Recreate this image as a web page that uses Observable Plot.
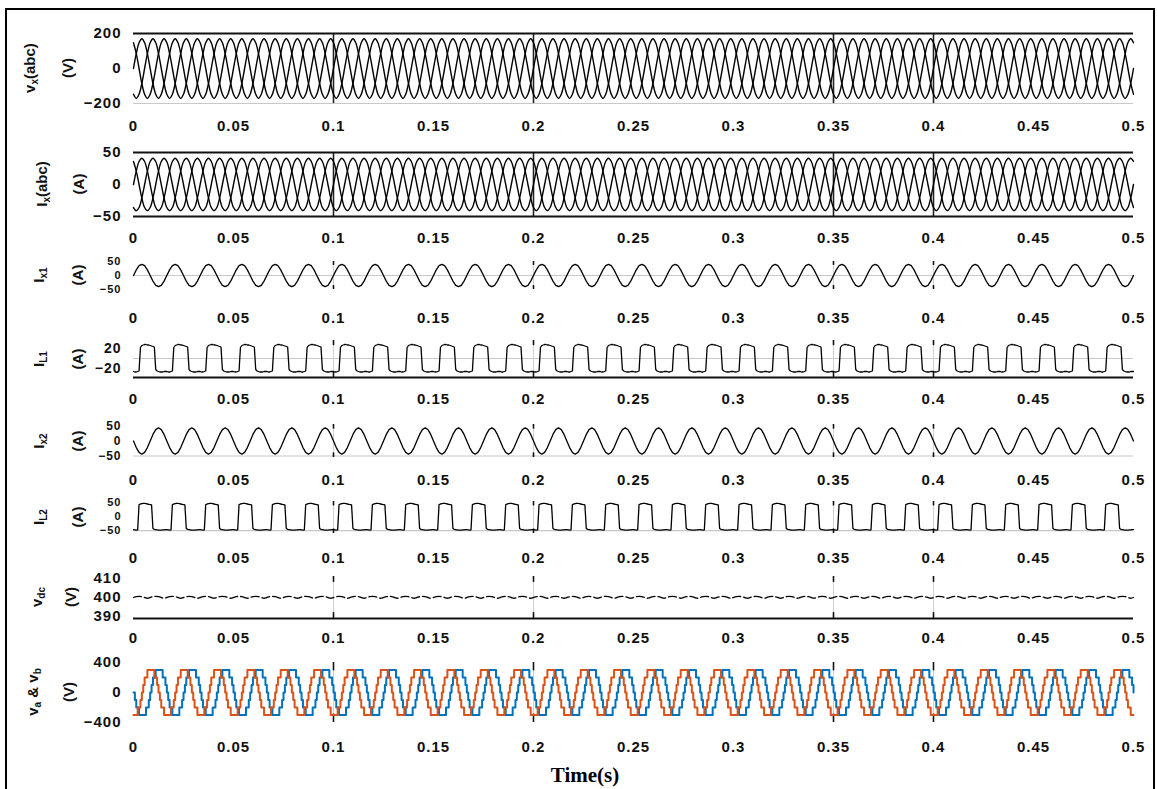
<!DOCTYPE html>
<html><head><meta charset="utf-8">
<script src="https://cdn.jsdelivr.net/npm/d3@7"></script>
<script src="https://cdn.jsdelivr.net/npm/@observablehq/plot@0.6"></script>
<style>
body{margin:0;background:#fff;}
#root{position:relative;width:1157px;height:789px;overflow:hidden;background:#fff;font-family:"Liberation Sans",Arial,sans-serif;}
.frame{position:absolute;left:5px;top:8px;width:1146px;height:800px;border:2px solid #000;border-bottom:none;}
.panel{position:absolute;left:0;}
.ylab{position:absolute;transform:translate(-50%,-50%) rotate(-90deg);white-space:nowrap;font-weight:bold;font-size:15px;color:#111;line-height:1;}
.ylab sub{font-size:10px;vertical-align:-3px;}
#xtitle{position:absolute;left:585px;top:775px;transform:translate(-50%,-50%);font-family:"Liberation Serif","Times New Roman",serif;font-weight:bold;font-size:21px;color:#000;white-space:nowrap;}
</style>
</head><body>
<div id="root"><div class="frame"></div></div>
<script>
// ---- axis ticks ----
const xTicks = [0, 0.05, 0.1, 0.15, 0.2, 0.25, 0.3, 0.35, 0.4, 0.45, 0.5];
const xTickLabels = ["0", "0.05", "0.1", "0.15", "0.2", "0.25", "0.3", "0.35", "0.4", "0.45", "0.5"];
const eventTimes = [0.1, 0.2, 0.35, 0.4];
const period = 1 / 60;     // one cycle of the waveforms (s)
const cycles = 30;         // cycles visible in 0..0.5 s

// ---- one cycle of each waveform ----
const vxA = [0, 85, 147, 170, 147, 85, 0, -85, -147, -170, -147, -85];
const vxB = [-147, -170, -147, -85, 0, 85, 147, 170, 147, 85, 0, -85];
const vxC = [147, 85, 0, -85, -147, -170, -147, -85, 0, 85, 147, 170];
const ixA = [0, 21, 36, 41, 36, 21, 0, -21, -36, -41, -36, -21];
const ixB = [-36, -41, -36, -21, 0, 21, 36, 41, 36, 21, 0, -21];
const ixC = [36, 21, 0, -21, -36, -41, -36, -21, 0, 21, 36, 41];
const ix1 = [0, 20, 35, 40, 35, 20, 0, -20, -35, -40, -35, -20];
const il1 = [-26, -27, -27, -26, -25, 22, 26, 27, 28, 28, 27, 27, 26, 25, 24, 23, -22, -25, -26, -27, -27, -27, -26, -26];
const ix2 = [0, -22, -38, -44, -38, -22, 0, 22, 38, 44, 38, 22];
const il2 = [-46, -47, -48, -47, 44, 46, 47, 48, 48, 47, 46, 45, 44, 43, -42, -45, -46, -47, -48, -48, -48, -47, -47, -46];
const vdc = [400.0, 400.4, 400.6, 400.4, 400.0, 399.6, 400.0, 400.4, 400.6, 400.4, 400.0, 399.6];
const va = [0, -100, -200, -200, -300, -300, -300, -300, -300, -200, -200, -100, 0, 100, 200, 200, 300, 300, 300, 300, 300, 200, 200, 100];
const vb = [-300, -300, -300, -200, -200, -100, 0, 100, 200, 200, 300, 300, 300, 300, 300, 200, 200, 100, 0, -100, -200, -200, -300, -300];

function tile(cycle, series) {
  const n = cycle.length, out = [];
  for (let c = 0; c < cycles; c++)
    for (let k = 0; k < n; k++) out.push({t: (c + k / n) * period, v: cycle[k], s: series});
  out.push({t: 0.5, v: cycle[0], s: series});
  return out;
}

const panels = [
  {top: 33, bottom: 103, domain: [-200, 200], ticks: [-200, 0, 200], labelY: 126, tf: 15,
   series: [tile(vxA, "a"), tile(vxB, "b"), tile(vxC, "c")], colors: ["#000", "#000", "#000"], curve: "catmull-rom", sw: 1.4,
   dark: [200], gray: [-200], solidEvents: true,
   lab: ['v<sub>x</sub>(abc)', '(V)'], labX: [31, 67]},
  {top: 152, bottom: 216, domain: [-50, 50], ticks: [-50, 0, 50], labelY: 238, tf: 15,
   series: [tile(ixA, "a"), tile(ixB, "b"), tile(ixC, "c")], colors: ["#000", "#000", "#000"], curve: "catmull-rom", sw: 1.4,
   dark: [50, -50], gray: [], solidEvents: true,
   lab: ['I<sub>x</sub>(abc)', '(A)'], labX: [43, 78]},
  {top: 261, bottom: 289, domain: [-50, 50], ticks: [-50, 0, 50], labelY: 318, tf: 11,
   series: [tile(ix1, "a")], colors: ["#000"], curve: "linear", sw: 1.3,
   dark: [], gray: [0], solidEvents: false,
   lab: ['I<sub>x1</sub>', '(A)'], labX: [40, 77]},
  {top: 340, bottom: 377, domain: [-38, 36], ticks: [-20, 20], labelY: 399, tf: 14,
   series: [tile(il1, "a")], colors: ["#000"], curve: "linear", sw: 1.3,
   dark: [-38], gray: [0], solidEvents: false,
   lab: ['I<sub>L1</sub>', '(A)'], labX: [40, 77]},
  {top: 424, bottom: 457, domain: [-55, 55], ticks: [-50, 0, 50], labelY: 480, tf: 12,
   series: [tile(ix2, "a")], colors: ["#000"], curve: "linear", sw: 1.3,
   dark: [], gray: [-50], solidEvents: false,
   lab: ['I<sub>x2</sub>', '(A)'], labX: [40, 77]},
  {top: 501, bottom: 533, domain: [-60, 55], ticks: [-50, 0, 50], labelY: 558, tf: 11,
   series: [tile(il2, "a")], colors: ["#000"], curve: "linear", sw: 1.3,
   dark: [], gray: [-50], solidEvents: false,
   lab: ['I<sub>L2</sub>', '(A)'], labX: [40, 77]},
  {top: 576, bottom: 618, domain: [389, 411], ticks: [390, 400, 410], labelY: 638, tf: 15,
   series: [tile(vdc, "a")], colors: ["#000"], curve: "catmull-rom", sw: 1.3, dash: "8,3",
   dark: [389], gray: [], solidEvents: false,
   lab: ['v<sub>dc</sub>', '(V)'], labX: [38, 70]},
  {top: 662, bottom: 722, domain: [-400, 400], ticks: [-400, 0, 400], labelY: 747, tf: 15,
   series: [tile(va, "va"), tile(vb, "vb")], colors: ["#0072BD", "#D95319"], curve: "step-after", sw: 2,
   dark: [], gray: [], solidEvents: false,
   lab: ['v<sub>a</sub> &amp; v<sub>b</sub>', '(V)'], labX: [34, 68]}
];

const root = document.getElementById("root");

panels.forEach(p => {
  const svgTop = p.top - 10;
  const H = p.labelY + 14 - svgTop;
  const mt = 10;
  const mb = H - (p.bottom - svgTop);
  const [lo, hi] = p.domain;
  const span = hi - lo;
  const marks = [];
  p.gray.forEach(g => marks.push(Plot.ruleY([g], {stroke: "#c8c8c8", strokeWidth: 1.2})));
  if (p.solidEvents) {
    marks.push(Plot.ruleX(eventTimes, {stroke: "#222", strokeWidth: 1.6}));
  } else {
    marks.push(Plot.ruleX(eventTimes, {stroke: "#d0d0d0", strokeWidth: 1}));
    marks.push(Plot.ruleX(eventTimes, {y1: hi, y2: hi - 0.14 * span, stroke: "#111", strokeWidth: 1.6}));
    marks.push(Plot.ruleX(eventTimes, {y1: lo, y2: lo + 0.14 * span, stroke: "#111", strokeWidth: 1.6}));
  }
  p.series.forEach((s, i) => marks.push(Plot.line(s, {
    x: "t", y: "v", stroke: p.colors[i], strokeWidth: p.sw, curve: p.curve,
    strokeDasharray: p.dash || null
  })));
  p.dark.forEach(g => marks.push(Plot.ruleY([g], {stroke: "#111", strokeWidth: 2})));
  marks.push(Plot.axisX({ticks: xTicks, tickSize: 0, tickPadding: p.labelY - p.bottom - 6,
    tickFormat: d => xTickLabels[xTicks.indexOf(d)], label: null, fontSize: 15}));
  marks.push(Plot.axisY({ticks: p.ticks, tickSize: 0, tickPadding: 12, label: null, fontSize: p.tf}));

  const chart = Plot.plot({
    width: 1157, height: H, marginTop: mt, marginBottom: mb, marginLeft: 133, marginRight: 24,
    x: {domain: [0, 0.5]},
    y: {domain: p.domain},
    style: {background: "transparent", overflow: "visible", fontFamily: "'Liberation Sans', Arial, sans-serif",
            fontSize: "15px", fontWeight: "bold", color: "#111", letterSpacing: "1px"},
    marks
  });
  const wrap = document.createElement("div");
  wrap.className = "panel";
  wrap.style.top = svgTop + "px";
  wrap.appendChild(chart);
  root.appendChild(wrap);

  const cy = (p.top + p.bottom) / 2;
  p.lab.forEach((html, i) => {
    const d = document.createElement("div");
    d.className = "ylab";
    d.innerHTML = html;
    d.style.left = p.labX[i] + "px";
    d.style.top = cy + "px";
    root.appendChild(d);
  });
});

const xt = document.createElement("div");
xt.id = "xtitle";
xt.textContent = "Time(s)";
root.appendChild(xt);
</script>
</body></html>
